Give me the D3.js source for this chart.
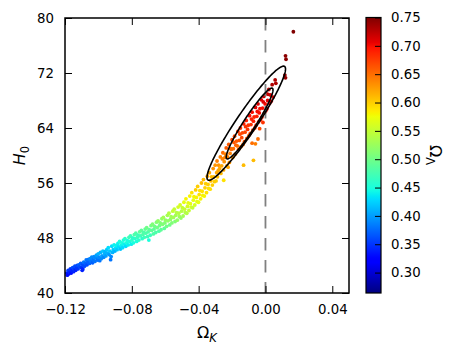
<!DOCTYPE html>
<html>
<head>
<meta charset="utf-8">
<script src="https://cdn.jsdelivr.net/npm/d3@7"></script>
<style>
  body { margin: 0; background: #fff; }
  text { font-family: "DejaVu Sans", sans-serif; fill: #000; }
</style>
</head>
<body>
<svg id="chart" width="456" height="354"></svg>
<script>
// tick labels
const xTicks = [-0.12, -0.08, -0.04, 0.00, 0.04];
const yTicks = [40, 48, 56, 64, 72, 80];
const cbTicks = [0.30, 0.35, 0.40, 0.45, 0.50, 0.55, 0.60, 0.65, 0.70, 0.75];

// MCMC samples: [Omega_K, H0, Omega_Lambda]
const samplesLow = [
  [-0.1190,42.9,0.34],[-0.1186,42.6,0.33],[-0.1181,43.3,0.35],[-0.1177,42.8,0.33],[-0.1173,43.0,0.34],
  [-0.1168,43.5,0.35],[-0.1163,42.9,0.33],[-0.1159,43.2,0.34],[-0.1154,43.7,0.36],[-0.1149,43.1,0.34],
  [-0.1145,43.4,0.35],[-0.1141,43.9,0.36],[-0.1136,43.3,0.34],[-0.1131,43.6,0.35],[-0.1127,44.0,0.36],
  [-0.1122,43.5,0.35],[-0.1117,44.1,0.37],[-0.1112,43.8,0.36],[-0.1106,44.3,0.37],[-0.1101,43.7,0.35],
  [-0.1097,43.3,0.34],[-0.1093,43.5,0.34],[-0.1094,44.1,0.36],[-0.1088,44.5,0.38],[-0.1083,43.9,0.36],
  [-0.1078,44.3,0.37],[-0.1073,44.8,0.38],[-0.1068,44.1,0.36],[-0.1063,44.5,0.37],[-0.1059,44.9,0.38],
  [-0.1054,44.3,0.37],[-0.1049,45.0,0.39],[-0.1045,44.6,0.38],[-0.1040,45.2,0.39],[-0.1035,44.4,0.37],
  [-0.1031,44.8,0.38],[-0.1026,45.3,0.39],[-0.1021,44.6,0.38],[-0.1016,45.1,0.39],[-0.1012,45.5,0.40],
  [-0.1006,44.8,0.38],[-0.1001,45.7,0.41],[-0.0997,45.2,0.39],[-0.0992,44.7,0.38],[-0.0988,45.9,0.41],
  [-0.0983,45.0,0.39],[-0.0979,45.4,0.40],[-0.0973,46.1,0.42],[-0.0968,45.2,0.39],[-0.0964,45.7,0.41],
  [-0.0960,46.0,0.41],[-0.0955,45.4,0.40],[-0.0950,46.3,0.42],[-0.0946,45.8,0.41],[-0.0941,46.6,0.43],
  [-0.0936,45.6,0.40],[-0.0932,46.1,0.42],[-0.0927,44.85,0.38],[-0.0924,45.3,0.39],[-0.0920,46.8,0.43],
  [-0.0915,45.9,0.41],[-0.0911,46.3,0.42],[-0.0906,47.0,0.44],[-0.0901,46.1,0.41],[-0.0897,46.5,0.43],
  [-0.0893,46.9,0.44],[-0.0888,46.3,0.42],[-0.0883,47.2,0.44],[-0.0879,46.7,0.43],[-0.0873,47.5,0.45],
  [-0.0868,46.4,0.42],[-0.0864,46.9,0.44],[-0.0860,47.3,0.45],[-0.0855,46.6,0.43],[-0.0850,47.7,0.45],
  [-0.0846,47.1,0.44],[-0.0841,47.9,0.46],[-0.0836,46.8,0.43],[-0.0832,47.3,0.45],[-0.0827,47.6,0.45],
  [-0.0822,47.0,0.44],[-0.0817,48.1,0.47],[-0.0813,47.5,0.45],[-0.0808,48.3,0.47],[-0.0803,47.1,0.44],
  [-0.0799,47.7,0.46],[-0.0795,48.0,0.46],[-0.0790,47.3,0.45],[-0.0785,48.5,0.48],[-0.0781,47.9,0.46],
  [-0.0776,48.7,0.48],[-0.0771,47.5,0.45],[-0.0767,48.1,0.47],[-0.0763,48.4,0.47],[-0.0758,47.7,0.46],
  [-0.0753,48.9,0.49],[-0.0749,48.3,0.47],[-0.0743,49.1,0.49],[-0.0738,47.9,0.46],[-0.0734,48.5,0.48],
  [-0.0730,48.8,0.48],[-0.0725,48.1,0.47],[-0.0720,49.3,0.49],[-0.0716,48.7,0.48],[-0.0711,49.5,0.50],
  [-0.0706,48.2,0.47],[-0.0702,48.9,0.48],[-0.0698,47.7,0.45],[-0.0696,49.2,0.49],[-0.0690,48.4,0.47],
  [-0.0685,49.8,0.50],[-0.0681,49.1,0.49],[-0.0676,50.0,0.51],[-0.0671,48.6,0.48],[-0.0667,49.3,0.49],
  [-0.0663,49.7,0.50],[-0.0657,48.8,0.48],[-0.0652,50.3,0.51],[-0.0648,49.5,0.50],[-0.0643,50.5,0.52],
  [-0.0638,49.0,0.48],[-0.0634,49.8,0.50],[-0.0630,50.2,0.51],[-0.0625,49.2,0.49],[-0.0620,50.8,0.52],
  [-0.0616,50.0,0.51],[-0.0611,51.0,0.53],[-0.0606,49.4,0.49],[-0.0602,50.2,0.51],[-0.0598,50.6,0.52],
  [-0.0592,49.7,0.50],[-0.0587,51.3,0.53],[-0.0583,50.5,0.52],[-0.0578,51.6,0.54],[-0.0573,49.9,0.50],
  [-0.0569,50.7,0.52],[-0.0565,51.1,0.53],[-0.0560,50.2,0.51],[-0.0555,51.9,0.55],[-0.0551,51.0,0.53],
  [-0.0546,52.2,0.55],[-0.0541,50.4,0.51],[-0.0537,51.3,0.53],[-0.0533,51.7,0.54]
];
const samplesMid = [
  [-0.0528,50.6,0.52],[-0.0523,52.5,0.56],[-0.0519,51.6,0.54],[-0.0515,51.1,0.53],[-0.0511,52.8,0.56],
  [-0.0506,50.9,0.52],[-0.0502,51.9,0.54],[-0.0498,52.4,0.55],[-0.0493,51.2,0.53],[-0.0488,53.2,0.57],
  [-0.0484,52.2,0.55],[-0.0480,51.7,0.54],[-0.0476,53.7,0.58],[-0.0471,51.6,0.54],[-0.0467,52.6,0.56],
  [-0.0463,53.1,0.57],[-0.0458,52.0,0.55],[-0.0453,54.1,0.58],[-0.0449,53.0,0.57],[-0.0445,52.5,0.56],
  [-0.0441,54.6,0.59],[-0.0436,52.4,0.55],[-0.0432,53.5,0.57],[-0.0428,54.0,0.58],[-0.0423,52.8,0.56],
  [-0.0418,55.0,0.60],[-0.0414,53.9,0.58],[-0.0410,53.3,0.57],[-0.0406,55.5,0.60],[-0.0401,53.2,0.57],
  [-0.0397,54.3,0.59],[-0.0393,54.9,0.59],[-0.0388,53.7,0.58],[-0.0383,56.0,0.61],[-0.0379,54.8,0.59],
  [-0.0375,54.2,0.58],[-0.0371,56.5,0.61],[-0.0366,54.1,0.58],[-0.0362,55.3,0.60],[-0.0358,55.9,0.60],
  [-0.0353,54.6,0.59],[-0.0348,57.0,0.62],[-0.0344,55.8,0.60],[-0.0340,55.2,0.59],[-0.0336,57.5,0.62],
  [-0.0331,55.1,0.59],[-0.0327,56.3,0.61],[-0.0323,56.9,0.61],[-0.0318,55.7,0.60],[-0.0313,58.1,0.63],
  [-0.0309,56.9,0.61],[-0.0305,56.2,0.60],[-0.0301,58.6,0.63],[-0.0296,56.3,0.60],[-0.0292,57.5,0.62],
  [-0.0250,56.4,0.59],[-0.0131,58.6,0.61],[-0.0072,59.3,0.61]
];
const samplesHigh = [
  [-0.0290,59.2,0.64],[-0.0287,56.9,0.61],[-0.0283,57.8,0.62],[-0.0280,58.6,0.63],[-0.0270,59.8,0.64],
  [-0.0267,57.4,0.61],[-0.0262,58.5,0.62],[-0.0255,60.4,0.65],[-0.0251,57.9,0.62],[-0.0247,59.1,0.63],
  [-0.0243,59.7,0.64],[-0.0235,61.1,0.66],[-0.0231,58.5,0.62],[-0.0227,59.8,0.64],[-0.0220,61.6,0.66],
  [-0.0216,59.0,0.63],[-0.0212,60.3,0.64],[-0.0208,61.0,0.65],[-0.0200,62.3,0.67],[-0.0196,59.7,0.63],
  [-0.0192,61.0,0.65],[-0.0185,62.8,0.67],[-0.0181,60.2,0.64],[-0.0177,61.5,0.66],[-0.0173,62.1,0.66],
  [-0.0165,63.5,0.68],[-0.0161,60.9,0.65],[-0.0157,62.2,0.66],[-0.0150,64.0,0.68],[-0.0146,61.3,0.65],
  [-0.0142,62.6,0.67],[-0.0138,63.3,0.67],[-0.0130,64.6,0.69],[-0.0126,62.0,0.66],[-0.0122,63.4,0.67],
  [-0.0115,65.1,0.69],[-0.0111,62.5,0.66],[-0.0107,63.8,0.68],[-0.0103,64.4,0.68],[-0.0095,65.8,0.70],
  [-0.0091,63.2,0.67],[-0.0087,64.5,0.68],[-0.0080,66.3,0.70],[-0.0076,63.7,0.67],[-0.0072,65.0,0.69],
  [-0.0068,65.6,0.69],[-0.0060,61.7,0.64],[-0.0045,62.4,0.65],[-0.0060,67.0,0.71],[-0.0056,64.4,0.68],
  [-0.0052,65.7,0.69],[-0.0045,67.5,0.71],[-0.0041,64.9,0.68],[-0.0037,66.2,0.70],[-0.0033,66.8,0.70],
  [-0.0025,68.1,0.71],[-0.0021,65.6,0.69],[-0.0017,66.9,0.70],[-0.0010,68.6,0.72],[-0.0006,66.2,0.69],
  [-0.0002,67.5,0.70],[0.0005,69.0,0.72],[0.0009,66.8,0.70],[0.0013,68.0,0.71],[0.0020,69.6,0.72],
  [0.0025,67.6,0.70],[0.0030,68.8,0.71],[0.0040,70.3,0.73],[0.0046,68.5,0.71],[0.0058,71.0,0.73],
  [0.0062,70.5,0.73],[0.0116,71.7,0.74],[0.0120,71.3,0.74],[0.0120,74.5,0.745],[0.0123,74.0,0.745],
  [0.0167,78.0,0.75],
  [-0.0275,58.1,0.62],[-0.0258,59.5,0.64],[-0.0239,60.2,0.64],[-0.0224,58.3,0.62],[-0.0204,60.9,0.65],
  [-0.0189,61.9,0.66],[-0.0169,61.4,0.65],[-0.0153,63.1,0.67],[-0.0134,61.6,0.65],[-0.0119,64.2,0.68],
  [-0.0099,62.9,0.66],[-0.0084,65.3,0.69],[-0.0064,64.0,0.68],[-0.0049,66.4,0.70],[-0.0029,65.2,0.69],
  [-0.0013,67.8,0.71],[0.0002,66.5,0.70],[0.0016,68.9,0.72],[0.0034,67.9,0.71],[-0.0035,63.9,0.67],
  [-0.0015,64.8,0.68],[-0.0080,61.8,0.65]
];

// confidence contours: centre, half extent along each axis, correlation
const contours = [
  { name: "68%", omegaK: -0.0095, h0: 64.65, halfK: 0.0140, halfH: 5.15, rho: 0.95 },
  { name: "95%", omegaK: -0.0115, h0: 64.7, halfK: 0.0235, halfH: 8.3, rho: 0.95 }
];

const svg = d3.select("#chart");
const pLeft = 65, pTop = 18, pRight = 349, pBottom = 293;

const x = d3.scaleLinear().domain([-0.12, 0.05]).range([pLeft, pRight]);
const y = d3.scaleLinear().domain([40, 80]).range([pBottom, pTop]);
const cMin = 0.264, cMax = 0.75;

// matplotlib "jet"
const jetR = d3.scaleLinear().domain([0, 0.35, 0.66, 0.89, 1]).range([0, 0, 1, 1, 0.5]).clamp(true);
const jetG = d3.scaleLinear().domain([0, 0.125, 0.375, 0.64, 0.91, 1]).range([0, 0, 1, 1, 0, 0]).clamp(true);
const jetB = d3.scaleLinear().domain([0, 0.11, 0.34, 0.65, 1]).range([0.5, 1, 1, 0, 0]).clamp(true);
function jet(v) {
  const t = (v - cMin) / (cMax - cMin);
  return d3.rgb(jetR(t) * 255, jetG(t) * 255, jetB(t) * 255).formatHex();
}

// scatter
const samples = samplesLow.concat(samplesMid, samplesHigh);
svg.append("g")
  .selectAll("circle")
  .data(samples)
  .join("circle")
  .attr("cx", d => x(d[0]))
  .attr("cy", d => y(d[1]))
  .attr("r", 1.9)
  .attr("fill", d => jet(d[2]));

// flat universe line
svg.append("line")
  .attr("x1", x(0)).attr("x2", x(0))
  .attr("y1", pTop).attr("y2", pBottom)
  .attr("stroke", "#808080")
  .attr("stroke-width", 1.8)
  .attr("stroke-dasharray", "12.5,9.5");

// contours
const ellipseLine = d3.line().curve(d3.curveLinearClosed);
contours.forEach(c => {
  const pts = d3.range(0, 2 * Math.PI, Math.PI / 90).map(t => {
    const k = c.omegaK + c.halfK * Math.cos(t);
    const h = c.h0 + c.halfH * (c.rho * Math.cos(t) + Math.sqrt(1 - c.rho * c.rho) * Math.sin(t));
    return [x(k), y(h)];
  });
  svg.append("path")
    .attr("d", ellipseLine(pts))
    .attr("fill", "none")
    .attr("stroke", "#000")
    .attr("stroke-width", 1.6);
});

// axes
function styleAxis(g) {
  g.select(".domain").remove();
  g.selectAll(".tick line").attr("stroke", "#000").attr("stroke-width", 1);
  g.selectAll(".tick text").style("font-size", "13.3px").attr("fill", "#000");
}
const fmtX = d3.format(".2f");
svg.append("g").attr("transform", `translate(0,${pBottom})`)
  .call(d3.axisBottom(x).tickValues(xTicks).tickFormat(fmtX).tickSizeInner(-7).tickSizeOuter(0).tickPadding(12))
  .call(styleAxis);
svg.append("g").attr("transform", `translate(0,${pTop})`)
  .call(d3.axisTop(x).tickValues(xTicks).tickFormat("").tickSizeInner(-7).tickSizeOuter(0))
  .call(styleAxis);
svg.append("g").attr("transform", `translate(${pLeft},0)`)
  .call(d3.axisLeft(y).tickValues(yTicks).tickSizeInner(-7).tickSizeOuter(0).tickPadding(11))
  .call(styleAxis);
svg.append("g").attr("transform", `translate(${pRight},0)`)
  .call(d3.axisRight(y).tickValues(yTicks).tickFormat("").tickSizeInner(-7).tickSizeOuter(0))
  .call(styleAxis);

svg.append("rect")
  .attr("x", pLeft).attr("y", pTop)
  .attr("width", pRight - pLeft).attr("height", pBottom - pTop)
  .attr("fill", "none").attr("stroke", "#000").attr("stroke-width", 1.5);

// axis labels
const xl = svg.append("text").attr("x", (pLeft + pRight) / 2).attr("y", 338)
  .attr("text-anchor", "middle").style("font-size", "16px");
xl.append("tspan").text("Ω");
xl.append("tspan").attr("dy", 4).style("font-size", "11.5px").style("font-style", "italic").text("K");

const yl = svg.append("text").attr("transform", `translate(25,${(pTop + pBottom) / 2}) rotate(-90)`)
  .attr("text-anchor", "middle").style("font-size", "16px");
yl.append("tspan").style("font-style", "italic").text("H");
yl.append("tspan").attr("dy", 4).style("font-size", "11.5px").text("0");

// colorbar
const cbX = 366, cbW = 15;
const cy = d3.scaleLinear().domain([cMin, cMax]).range([293, 17.5]);
const grad = svg.append("defs").append("linearGradient")
  .attr("id", "jetGrad").attr("x1", 0).attr("y1", 1).attr("x2", 0).attr("y2", 0);
d3.range(0, 1.0001, 0.01).forEach(t => {
  grad.append("stop").attr("offset", t).attr("stop-color", jet(cMin + t * (cMax - cMin)));
});
svg.append("rect")
  .attr("x", cbX).attr("y", cy(cMax))
  .attr("width", cbW).attr("height", cy(cMin) - cy(cMax))
  .attr("fill", "url(#jetGrad)");
svg.append("g").attr("transform", `translate(${cbX + cbW},0)`)
  .call(d3.axisRight(cy).tickValues(cbTicks).tickFormat(d3.format(".2f")).tickSizeInner(-6).tickSizeOuter(0).tickPadding(10))
  .call(styleAxis);
svg.append("rect")
  .attr("x", cbX).attr("y", cy(cMax))
  .attr("width", cbW).attr("height", cy(cMin) - cy(cMax))
  .attr("fill", "none").attr("stroke", "#000").attr("stroke-width", 1.2);

const cl = svg.append("text").attr("transform", "translate(430,155) rotate(90)")
  .attr("text-anchor", "middle").style("font-size", "16px");
cl.append("tspan").text("Ω");
cl.append("tspan").attr("dy", 4).style("font-size", "11.5px").text("Λ");
</script>
</body>
</html>
